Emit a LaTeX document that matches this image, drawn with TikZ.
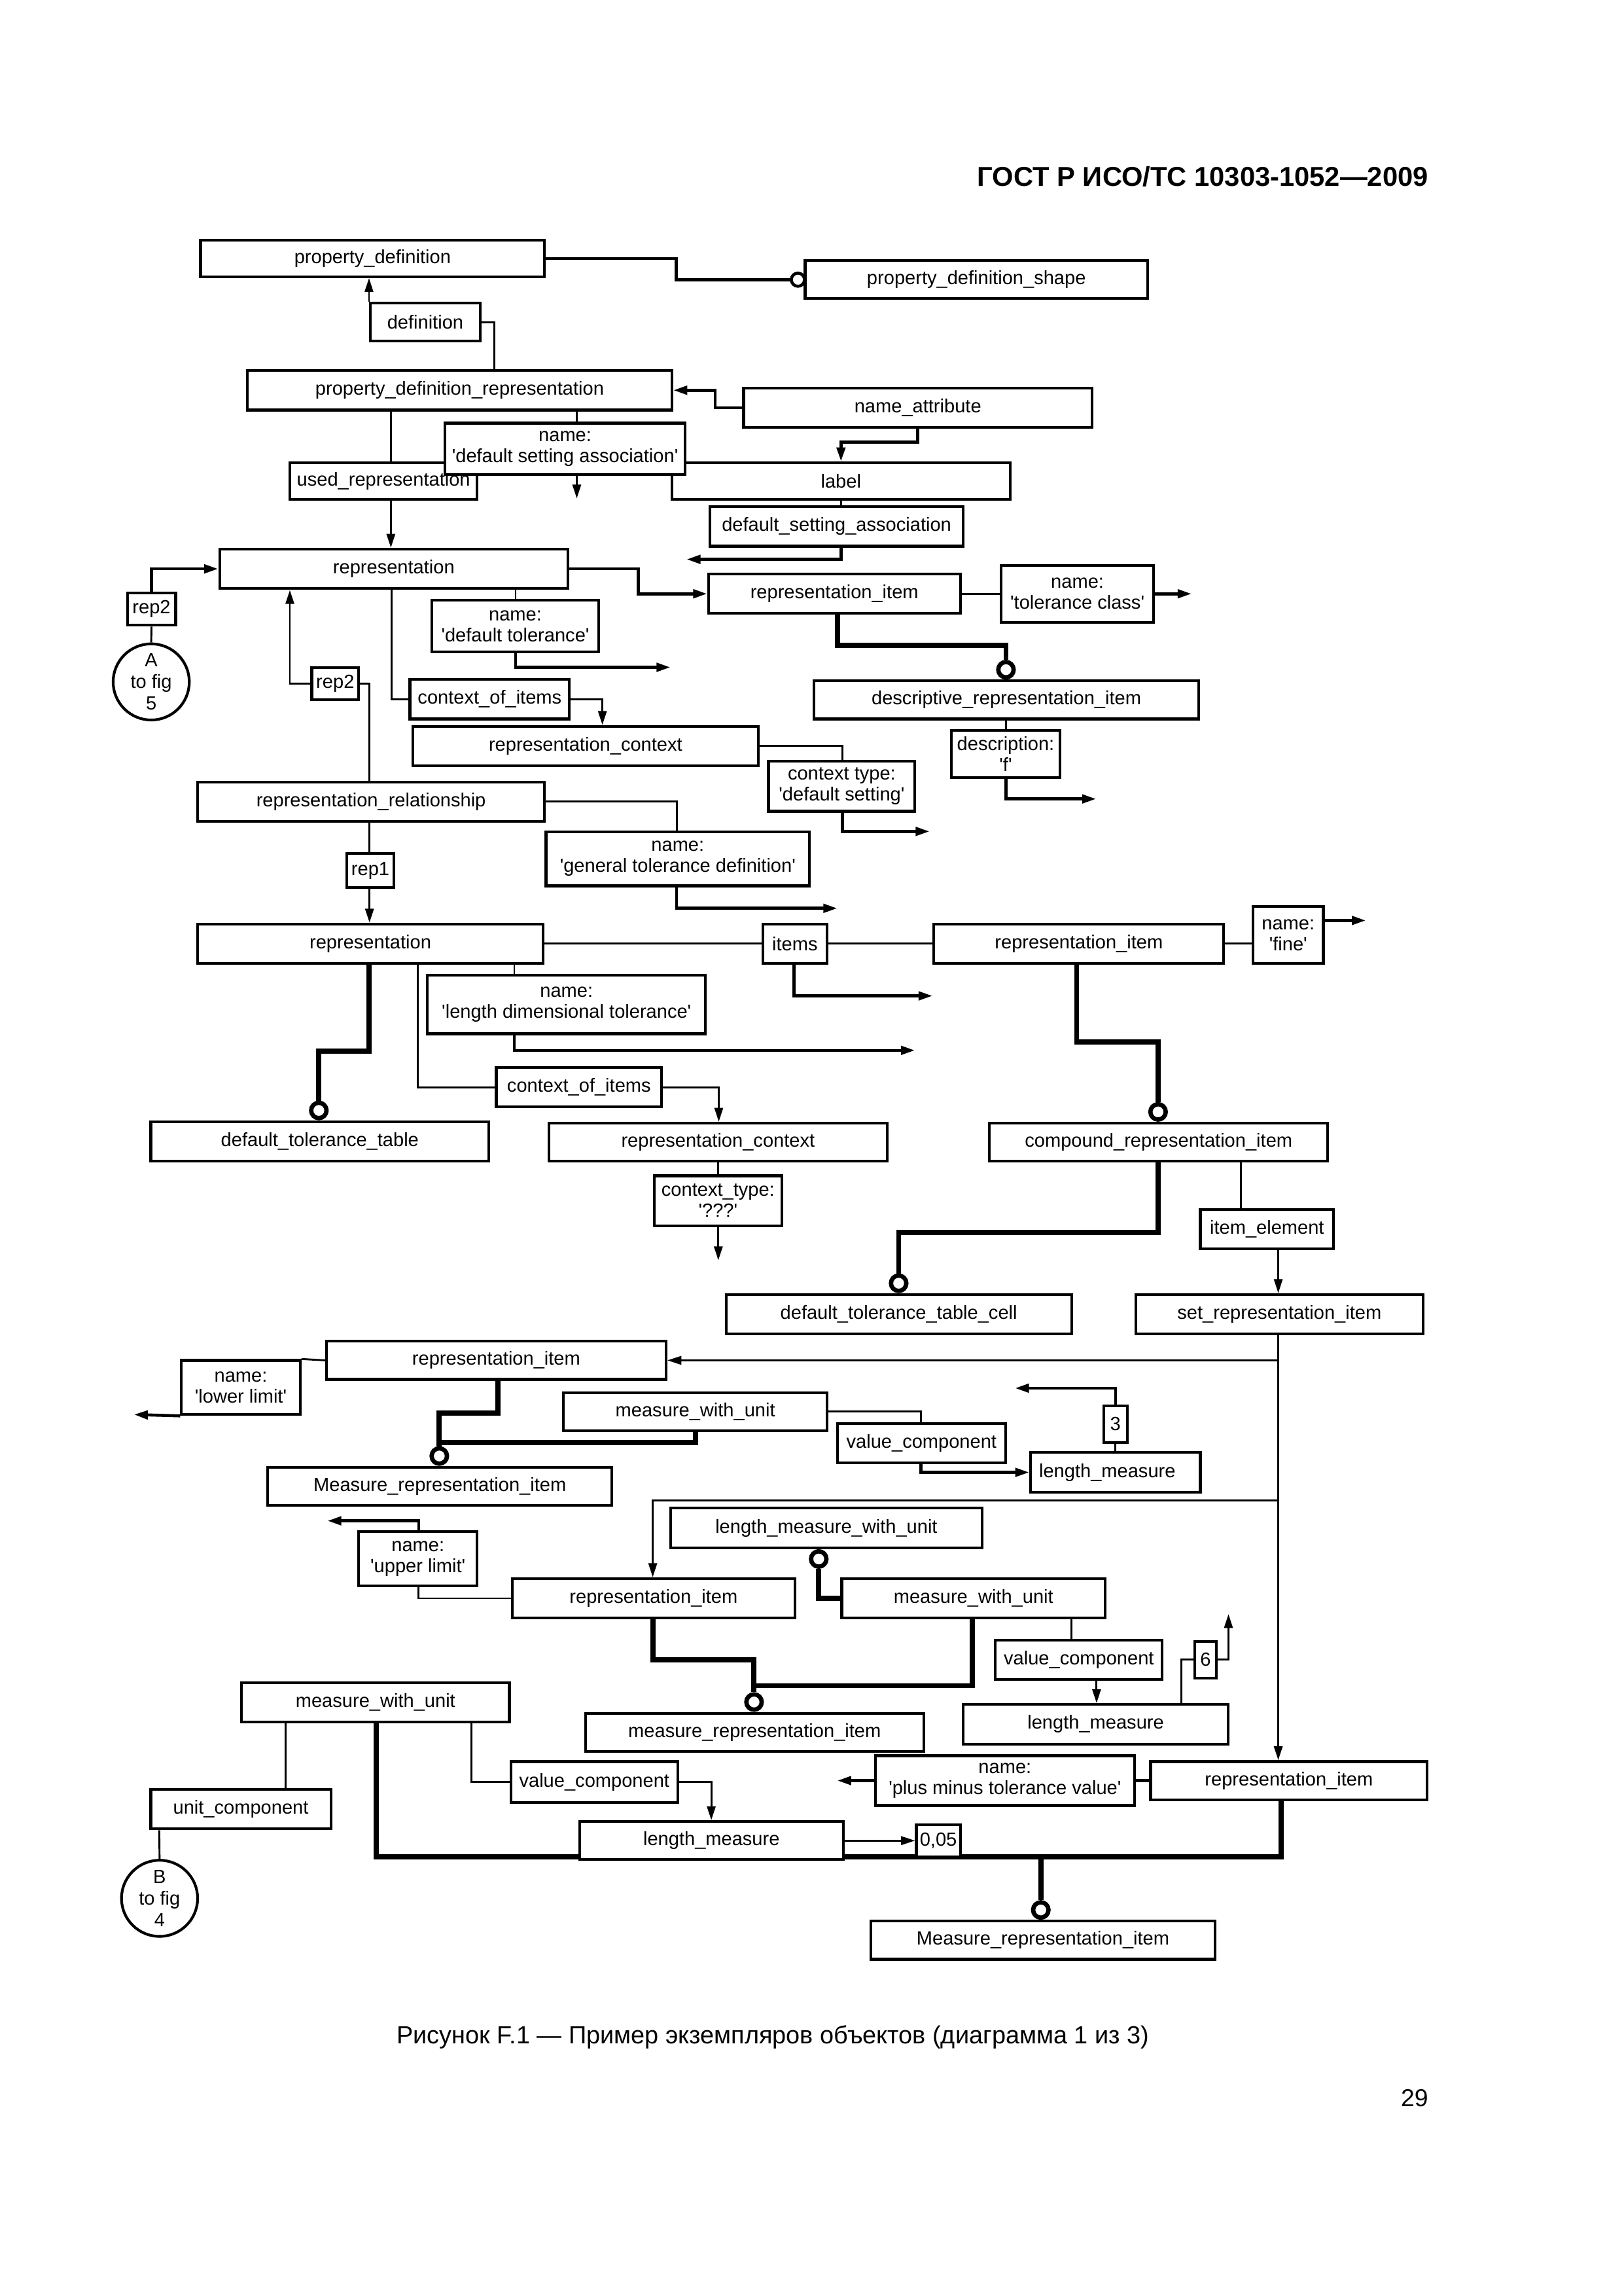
\documentclass[tikz,border=0pt]{standalone}
\usepackage{fontspec}
\setmainfont{Liberation Sans}
\usetikzlibrary{arrows.meta,calc,backgrounds}
\def\U{0.018936cm}
\newcommand\sq{\textquotesingle}
\newcommand\mybox[6]{\node[box, minimum width={(#4-#2)*\U}, minimum height={(#5-#3)*\U}] (#1) at ({(#2+#4)/2},{(#3+#5)/2}) {#6};}
\begin{document}
\begin{tikzpicture}[x=0.018936cm,y=-0.018936cm,
  box/.style={draw, line width=1pt, fill=white, inner sep=0pt, align=center, font=\fontsize{7}{7.7}\selectfont},
  thinln/.style={line width=0.7pt},
  medln/.style={line width=1.1pt},
  thickln/.style={line width=1.9pt},
  arr/.style={-{Triangle[length=1.8mm,width=1.1mm]}},
  ring/.style={circle, draw, line width=1.6pt, fill=white, inner sep=0pt, minimum size=10.5*0.018936cm},
  smallring/.style={circle, draw, line width=1.1pt, fill=white, inner sep=0pt, minimum size=9*0.018936cm},
  bigcirc/.style={circle, draw, line width=1pt, fill=white, inner sep=0pt, minimum size=52*0.018936cm, align=center, font=\fontsize{7}{8}\selectfont},
  line join=miter]
\useasboundingbox (0,0) rectangle (1109,1568);

\node[anchor=base east, inner sep=0pt, font=\bfseries\fontsize{10.05}{12}\selectfont] (hdr) at (976,127) {ГОСТ Р ИСО/ТС 10303-1052—2009};
\node[inner sep=0pt, font=\fontsize{9.12}{11}\selectfont] (cap) at (528,1391) {Рисунок F.1 — Пример экземпляров объектов (диаграмма 1 из 3)};
\node[anchor=east, inner sep=0pt, font=\fontsize{9}{11}\selectfont] (pg) at (976,1433) {29};

\mybox{pd}{137}{164}{372}{189}{property\_definition}
\mybox{pds}{550}{178}{784}{204}{property\_definition\_shape}
\mybox{defn}{253}{207}{328}{233}{definition}
\mybox{pdr}{169}{253}{459}{280}{property\_definition\_representation}
\mybox{na}{508}{265}{746}{292}{name\_attribute}
\mybox{usedrep}{198}{316}{326}{341}{used\_representation}
\mybox{label}{459}{316}{690}{341}{label}
\mybox{nmdsa}{304}{289}{468}{324}{name:\\\sq default setting association\sq}
\mybox{dsa}{485}{346}{658}{373}{default\_setting\_association}
\mybox{repA}{150}{375}{388}{402}{representation}
\mybox{ri1}{484}{392}{656}{419}{representation\_item}
\mybox{nmtc}{684}{386}{788}{425}{name:\\\sq tolerance class\sq}
\mybox{rep2a}{87}{405}{120}{427}{rep2}
\node[bigcirc] (circA) at (103.3,465.7) {A\\to fig\\5};
\mybox{nmdt}{295}{410}{409}{445}{name:\\\sq default tolerance\sq}
\mybox{rep2b}{213}{456}{245}{478}{rep2}
\mybox{coi1}{280}{464}{389}{491}{context\_of\_items}
\mybox{dri}{556}{465}{819}{491}{descriptive\_representation\_item}
\mybox{rc1}{282}{496}{518}{523}{representation\_context}
\mybox{descr}{650}{499}{724}{531}{description:\\\sq f\sq}
\mybox{ct1}{525}{520}{625}{554}{context type:\\\sq default setting\sq}
\mybox{rr}{135}{534}{372}{561}{representation\_relationship}
\mybox{gtd}{373}{568}{553}{605}{name:\\\sq general tolerance definition\sq}
\mybox{rep1box}{237}{583}{269}{606}{rep1}
\mybox{repB}{135}{631}{371}{658}{representation}
\mybox{items}{521}{631}{565}{658}{items}
\mybox{ri2}{638}{631}{836}{658}{representation\_item}
\mybox{nmfine}{856}{619}{904}{658}{name:\\\sq fine\sq}
\mybox{ldt}{292}{666}{482}{706}{name:\\\sq length dimensional tolerance\sq}
\mybox{coi2}{339}{729}{452}{756}{context\_of\_items}
\mybox{dtt}{103}{766}{334}{793}{default\_tolerance\_table}
\mybox{rc2}{375}{767}{606}{793}{representation\_context}
\mybox{cri}{676}{767}{907}{793}{compound\_representation\_item}
\mybox{ct2}{447}{803}{534}{837}{context\_type:\\\sq ???\sq}
\mybox{ie}{820}{826}{911}{853}{item\_element}
\mybox{dttc}{496}{884}{732}{911}{default\_tolerance\_table\_cell}
\mybox{sri}{776}{884}{972}{911}{set\_representation\_item}
\mybox{ri3}{223}{916}{455}{942}{representation\_item}
\mybox{nmll}{124}{929}{205}{966}{name:\\\sq lower limit\sq}
\mybox{mwu1}{385}{951}{565}{977}{measure\_with\_unit}
\mybox{vc1}{572}{972}{687}{999}{value\_component}
\mybox{box3}{754}{960}{770}{985}{3}
\mybox{lm1}{704}{992}{820}{1019}{length\_measure\hspace*{6pt}}
\mybox{mri1}{183}{1002}{418}{1028}{Measure\_representation\_item}
\mybox{lmwu}{458}{1030}{671}{1057}{length\_measure\_with\_unit}
\mybox{nmul}{245}{1046}{326}{1083}{name:\\\sq upper limit\sq}
\mybox{ri4}{350}{1078}{543}{1105}{representation\_item}
\mybox{mwu2}{575}{1078}{755}{1105}{measure\_with\_unit}
\mybox{vc2}{680}{1120}{794}{1147}{value\_component}
\mybox{box6}{816}{1121}{831}{1146}{6}
\mybox{mwu3}{165}{1149}{348}{1176}{measure\_with\_unit}
\mybox{lm2}{658}{1164}{839}{1191}{length\_measure}
\mybox{mri2}{400}{1170}{631}{1196}{measure\_representation\_item}
\mybox{nmpm}{598}{1199}{775}{1233}{name:\\\sq plus minus tolerance value\sq}
\mybox{vc3}{349}{1203}{463}{1231}{value\_component}
\mybox{ri5}{786}{1203}{975}{1229}{representation\_item}
\mybox{uc}{103}{1222}{226}{1249}{unit\_component}
\mybox{lm3}{396}{1244}{576}{1270}{length\_measure}
\mybox{box005}{626}{1246}{656}{1268}{0,05}
\node[bigcirc] (circB) at (109,1296.4) {B\\to fig\\4};
\mybox{mri3}{595}{1312}{830}{1338}{Measure\_representation\_item}

\node[ring, anchor=south] (c1) at (dri.north -| 687.2,0) {};
\node[ring, anchor=south] (c2) at (dtt.north -| 217.8,0) {};
\node[ring, anchor=south] (c3) at (cri.north -| 791.1,0) {};
\node[ring, anchor=south] (c4) at (dttc.north -| 613.9,0) {};
\node[ring, anchor=south] (c5) at (mri1.north -| 300.1,0) {};
\node[ring, anchor=south] (c6) at (mri2.north -| 515.1,0) {};
\node[ring, anchor=north] (c7) at (lmwu.south -| 559.3,0) {};
\node[ring, anchor=south] (c8) at (mri3.north -| 711,0) {};

\coordinate (fa1) at (394,340.4);
\coordinate (fa2) at (469,382);
\coordinate (fa3) at (814,405.5);
\coordinate (fa4) at (458,455.7);
\coordinate (fa5) at (748.8,545.6);
\coordinate (fa6) at (635,567.8);
\coordinate (fa7) at (572,620.3);
\coordinate (fa8) at (637,680.1);
\coordinate (fa9) at (933,628.6);
\coordinate (fa10) at (625,717.3);
\coordinate (fa11) at (490.7,860.7);
\coordinate (fa12) at (91.5,966);
\coordinate (fa13) at (693.4,948);
\coordinate (fa14) at (223.7,1038.6);
\coordinate (fa15) at (839.2,1102.3);
\coordinate (fa16) at (572,1216);

\begin{pgfonlayer}{background}
\draw[medln] (pd.east) -| (462,191) -- (pds.west);
\node[smallring] (c0) at ($(pds.west)+(-4,0)$) {};
\draw[thinln,arr] (defn.north west) -- (defn.north west |- pd.south);
\draw[thinln] (defn.east) -| (pdr.north -| 337.6,0);
\draw[medln,arr] (na.west) -| (488.5,266.5) -- (pdr.east);
\draw[medln,arr] (na.south -| 627,0) |- (574.5,302) -- (label.north);
\draw[thinln] (pdr.south -| 267,0) -- (usedrep.north -| 267,0);
\draw[thinln,arr] (usedrep.south -| 267,0) -- (repA.north -| 267,0);
\draw[thinln] (pdr.south -| 394,0) -- (nmdsa.north -| 394,0);
\draw[thinln,arr] (nmdsa.south -| 394,0) -- (fa1);
\draw[thinln] (label.south) -- (dsa.north -| label.south);
\draw[medln,arr] (dsa.south -| label.south) |- (fa2);
\draw[medln,arr] (repA.east) -| (436,405.5) -- (ri1.west);
\draw[thinln] (ri1.east) -- (nmtc.west);
\draw[medln,arr] (nmtc.east) -- (fa3);
\draw[thickln] (ri1.south -| 572.2,0) -- (572.2,440.8) -| (c1.north);
\draw[medln,arr] (rep2a.north) |- (repA.west);
\draw[thinln] (rep2a.south) -- (circA.north);
\draw[thinln] (repA.south -| 352.2,0) -- (nmdt.north -| 352.2,0);
\draw[medln,arr] (nmdt.south -| 352.2,0) |- (fa4);
\draw[thinln,arr] (rep2b.west) -| (repA.south -| 198,0);
\draw[thinln] (rr.north -| 252.4,0) |- (rep2b.east);
\draw[thinln] (repA.south -| 267.6,0) |- (coi1.west);
\draw[thinln,arr] (coi1.east) -| (rc1.north -| 411.5,0);
\draw[thinln] (dri.south -| 687.2,0) -- (descr.north -| 687.2,0);
\draw[medln,arr] (descr.south -| 687.2,0) |- (fa5);
\draw[thinln] (rc1.east) -| (ct1.north -| 575.6,0);
\draw[medln,arr] (ct1.south -| 575.6,0) |- (fa6);
\draw[thinln] (rr.east) -| (gtd.north -| 462.2,0);
\draw[medln,arr] (gtd.south -| 462.2,0) |- (fa7);
\draw[thinln] (rr.south -| 252.4,0) -- (rep1box.north -| 252.4,0);
\draw[thinln,arr] (rep1box.south -| 252.4,0) -- (repB.north -| 252.4,0);
\draw[thinln] (repB.east) -- (ri2.west);
\draw[medln,arr] (items.south -| 542.4,0) |- (fa8);
\draw[thinln] (ri2.east) -- (nmfine.west |- ri2.east);
\draw[medln,arr] (nmfine.east |- fa9) -- (fa9);
\draw[thinln] (repB.south -| 351.3,0) -- (ldt.north -| 351.3,0);
\draw[medln,arr] (ldt.south -| 351.3,0) |- (fa10);
\draw[thinln] (repB.south -| 285.4,0) |- (coi2.west);
\draw[thinln,arr] (coi2.east) -| (rc2.north -| 491,0);
\draw[thickln] (repB.south -| 252,0) -- (252,717.8) -| (c2.north);
\draw[thinln] (rc2.south -| 490.7,0) -- (ct2.north -| 490.7,0);
\draw[thinln,arr] (ct2.south -| 490.7,0) -- (fa11);
\draw[thickln] (ri2.south -| 735.5,0) -- (735.5,711.6) -| (c3.north);
\draw[thickln] (cri.south -| 791.1,0) -- (791.1,841.7) -| (c4.north);
\draw[thinln] (cri.south -| 847.6,0) -- (ie.north -| 847.6,0);
\draw[thinln,arr] (ie.south -| 873.2,0) -- (sri.north -| 873.2,0);
\draw[thinln,arr] (sri.south -| 873.2,0) -- (ri5.north -| 873.2,0);
\draw[thinln,arr] (sri.south -| 873.2,0) |- (ri3.east);
\draw[thinln,arr] (sri.south -| 873.2,0) -- (873.2,1024.8) -| (ri4.north -| 445.9,0);
\draw[thinln] (ri3.west) -- (nmll.north east);
\draw[medln,arr] (nmll.south west) -- (fa12);
\draw[thickln] (ri3.south -| 340.2,0) -- (340.2,965.2) -| (c5.north);
\draw[thickln] (mwu1.south -| 475.1,0) |- (c5.north |- 0,985);
\draw[thinln] (mwu1.east) -| (vc1.north -| 629.2,0);
\draw[medln,arr] (vc1.south -| 629.2,0) |- (lm1.west);
\draw[thinln] (lm1.north -| box3.south) -- (box3.south);
\draw[medln,arr] (box3.north) |- (fa13);
\draw[medln,arr] (nmul.north -| 286,0) |- (fa14);
\draw[thinln] (nmul.south -| 286,0) |- (ri4.west);
\draw[thickln] (ri4.south -| 446,0) -- (446,1133.6) -| (c6.north);
\draw[thickln] (mwu2.south -| 664.4,0) |- (c6.north |- 0,1151.2);
\draw[thickln] (c7.south) |- (mwu2.west);
\draw[thinln] (mwu2.south -| 731.9,0) -- (vc2.north -| 731.9,0);
\draw[thinln,arr] (vc2.south -| 749.1,0) -- (lm2.north -| 749.1,0);
\draw[thinln] (lm2.north -| 807.2,0) |- (box6.west);
\draw[thinln,arr] (box6.east) -| (fa15);
\draw[medln] (ri5.west) -- (nmpm.east |- ri5.west);
\draw[medln,arr] (nmpm.west |- ri5.west) -- (fa16);
\draw[thickln] (ri5.south -| 875,0) -- (875,1268) -| (c8.north);
\draw[thickln] (mwu3.south -| 256.9,0) |- (c8.north |- 0,1268);
\draw[thinln] (mwu3.south -| 195.1,0) -- (uc.north -| 195.1,0);
\draw[thinln] (uc.south -| 108.8,0) -- (circB.north);
\draw[thinln] (mwu3.south -| 322.1,0) |- (vc3.west);
\draw[thinln,arr] (vc3.east) -| (lm3.north -| 485.9,0);
\draw[thinln,arr] (lm3.east) -- (box005.west);
\end{pgfonlayer}
\end{tikzpicture}
\end{document}
